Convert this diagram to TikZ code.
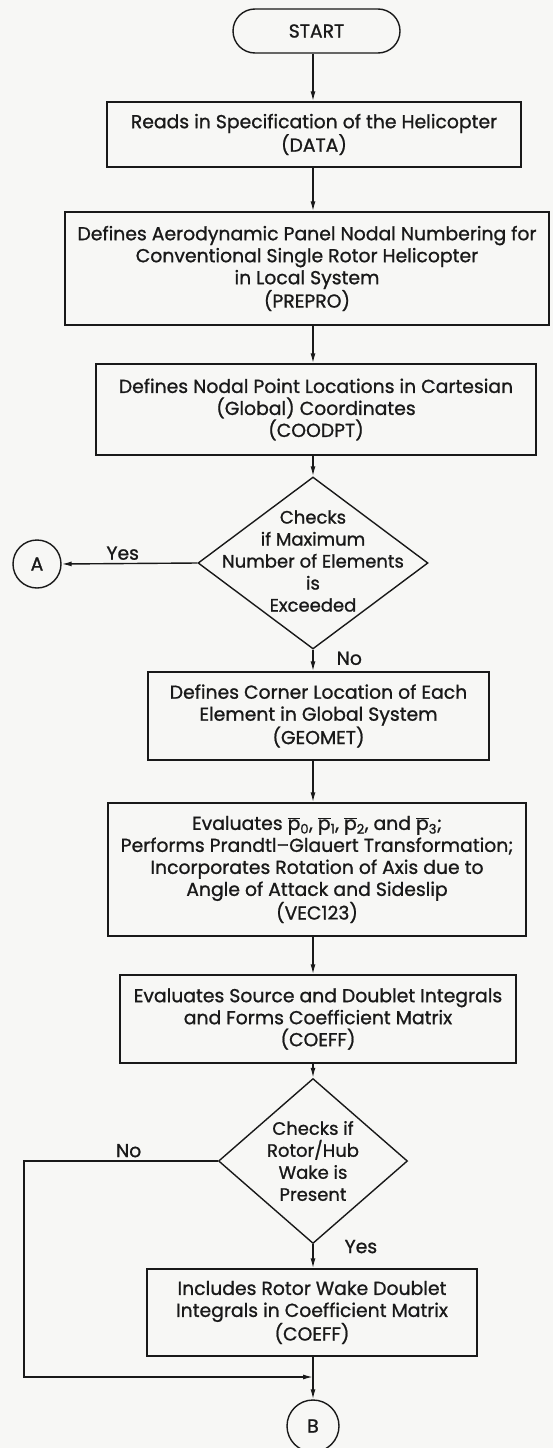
\documentclass[tikz,border=0pt]{standalone}
\usepackage{fontspec}
\setmainfont{Poppins}[FakeBold=1.0]
\usetikzlibrary{shapes.geometric,arrows.meta}
\definecolor{paper}{RGB}{247,247,245}
\definecolor{ink}{RGB}{25,25,25}
\newcommand\pbar[1]{$\overline{\mbox{p}}$\textsubscript{#1}}
\begin{document}
\begin{tikzpicture}[x=1pt,y=-1pt,
  every node/.style={font=\fontsize{18.8}{22}\selectfont, text=ink},
  line/.style={draw=ink, line width=1.4pt},
  box/.style={line, rectangle, align=center, inner sep=1pt},
  term/.style={line, rectangle, rounded corners=22pt, minimum width=167pt, minimum height=44pt},
  dia/.style={line, diamond, inner sep=0pt},
  dtext/.style={align=center, font=\fontsize{18}{22}\selectfont},
  circ/.style={line, circle, inner sep=0pt},
  arr/.style={line, -{Latex[length=10pt,width=5pt]}},
  lbl/.style={inner sep=1pt}
]
\fill[paper] (0,0) rectangle (553,1448);
\useasboundingbox (0,0) rectangle (553,1448);
\coordinate (ax) at (313,0);

\node[term] (start) at (316.5,31) {START};
\node[box, minimum width=414pt, minimum height=65pt] (data) at (314,134.5)
  {Reads in Specification of the Helicopter\\(DATA)};
\node[box, minimum width=484pt, minimum height=113pt] (prepro) at (307,268.5)
  {Defines Aerodynamic Panel Nodal Numbering for\\Conventional Single Rotor Helicopter\\in Local System\\(PREPRO)};
\node[box, minimum width=440pt, minimum height=91pt] (coodpt) at (316,409.5)
  {Defines Nodal Point Locations in Cartesian\\(Global) Coordinates\\(COODPT)};
\node[dia, minimum width=230pt, minimum height=172pt,
  label={[dtext, yshift=2pt]center:{Checks\\if Maximum\\Number of Elements\\is\\Exceeded}}] (d1) at (313,563) {};
\node[circ, minimum size=48pt] (A) at (37,564) {A};
\node[box, minimum width=341pt, minimum height=88pt] (geomet) at (318.5,716)
  {Defines Corner Location of Each\\Element in Global System\\(GEOMET)};
\node[box, minimum width=418pt, minimum height=133pt] (vec) at (317,869.5)
  {Evaluates \pbar0, \pbar1, \pbar2, and \pbar3;\\Performs Prandtl–Glauert Transformation;\\Incorporates Rotation of Axis due to\\Angle of Attack and Sideslip\\(VEC123)};
\node[box, minimum width=396pt, minimum height=88pt] (coeff) at (318,1019)
  {Evaluates Source and Doublet Integrals\\and Forms Coefficient Matrix\\(COEFF)};
\node[dia, minimum width=189pt, minimum height=165pt,
  label={[dtext]center:{Checks if\\Rotor/Hub\\Wake is\\Present}}] (d2) at (313,1161) {};
\node[box, minimum width=330pt, minimum height=87pt] (wake) at (312,1312.5)
  {Includes Rotor Wake Doublet\\Integrals in Coefficient Matrix\\(COEFF)};
\node[circ, minimum size=52pt] (B) at (313,1426) {B};

\coordinate (c1) at (24,1161);
\coordinate (c2) at (24,1377);
\coordinate (j) at (313,1377);

\draw[arr] (start.south -| ax) -- (data.north -| ax);
\draw[arr] (data.south -| ax) -- (prepro.north -| ax);
\draw[arr] (prepro.south -| ax) -- (coodpt.north -| ax);
\draw[arr] (coodpt.south -| ax) -- (d1.north);
\draw[arr] (d1.west) -- node[lbl, above, pos=0.55, yshift=2pt] {Yes} (A.east);
\draw[arr] (d1.south) -- node[lbl, anchor=west, pos=0.4, xshift=22pt] {No} (geomet.north -| ax);
\draw[arr] (geomet.south -| ax) -- (vec.north -| ax);
\draw[arr] (vec.south -| ax) -- (coeff.north -| ax);
\draw[arr] (coeff.south -| ax) -- (d2.north);
\draw[arr] (d2.south) -- node[lbl, anchor=west, pos=0.1, xshift=30pt] {Yes} (wake.north -| ax);
\draw[arr] (d2.west) -- node[lbl, above, pos=0.46, yshift=2pt] {No} (c1) -- (c2) -- (j);
\draw[arr] (wake.south -| ax) -- (B.north);
\end{tikzpicture}
\end{document}
